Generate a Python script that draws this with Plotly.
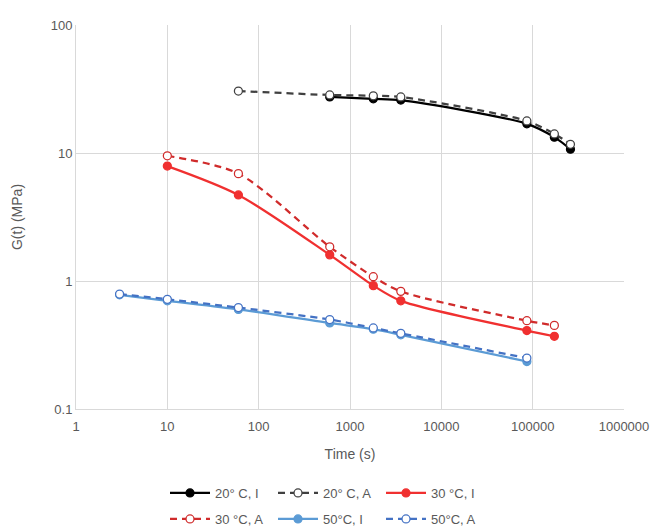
import plotly.graph_objects as go

# Data
t20_I = [600, 1800, 3600, 86400, 172800, 259200]
g20_I = [27.4, 26.5, 25.9, 16.9, 13.3, 10.7]
t20_A = [60, 600, 1800, 3600, 86400, 172800, 259200]
g20_A = [30.5, 28.4, 28.0, 27.4, 17.8, 14.1, 11.7]
t30_I = [10, 60, 600, 1800, 3600, 86400, 172800]
g30_I = [7.9, 4.7, 1.6, 0.92, 0.70, 0.41, 0.37]
t30_A = [10, 60, 600, 1800, 3600, 86400, 172800]
g30_A = [9.5, 6.9, 1.85, 1.08, 0.83, 0.49, 0.45]
t50_I = [3, 10, 60, 600, 1800, 3600, 86400]
g50_I = [0.78, 0.70, 0.60, 0.47, 0.42, 0.38, 0.235]
t50_A = [3, 10, 60, 600, 1800, 3600, 86400]
g50_A = [0.79, 0.72, 0.62, 0.50, 0.43, 0.39, 0.25]

x_ticks = [1, 10, 100, 1000, 10000, 100000, 1000000]
x_labels = ["1", "10", "100", "1000", "10000", "100000", "1000000"]
y_ticks = [0.1, 1, 10, 100]
y_labels = ["0.1", "1", "10", "100"]

series = [
    ("20° C, I", t20_I, g20_I, "#000000", "solid", False, "legend"),
    ("20° C, A", t20_A, g20_A, "#404040", "7px,5px", True, "legend"),
    ("30 °C, I", t30_I, g30_I, "#F03030", "solid", False, "legend"),
    ("30 °C, A", t30_A, g30_A, "#D02B2B", "7px,5px", True, "legend2"),
    ("50°C, I", t50_I, g50_I, "#5B9BD5", "solid", False, "legend2"),
    ("50°C, A", t50_A, g50_A, "#4472C4", "7px,5px", True, "legend2"),
]

fig = go.Figure()
for name, x, y, c, dash, hollow, lg in series:
    fig.add_trace(go.Scatter(
        x=x, y=y, name=name, mode="lines+markers", legend=lg,
        line=dict(color=c, width=2.25, dash=dash, shape="spline", smoothing=0.8),
        marker=dict(symbol="circle", size=8,
                    color="white" if hollow else c,
                    line=dict(color=c, width=1.25)),
    ))

font = "Liberation Sans, Arial, sans-serif"
leg_common = dict(orientation="h", x=0.5, xanchor="center", xref="container",
                  yanchor="middle", yref="container",
                  entrywidth=53, entrywidthmode="pixels", itemwidth=40,
                  font=dict(size=13, color="#595959"), bgcolor="rgba(0,0,0,0)")
fig.update_layout(
    width=654, height=528,
    margin=dict(l=76, r=30, t=25, b=119, autoexpand=False),
    paper_bgcolor="white", plot_bgcolor="white",
    font=dict(family=font, size=13, color="#595959"),
    showlegend=True,
    legend=dict(y=1 - 493 / 528, **leg_common),
    legend2=dict(y=1 - 519 / 528, **leg_common),
    xaxis=dict(type="log", range=[0, 6], tickvals=x_ticks, ticktext=x_labels,
               showgrid=True, gridcolor="#D9D9D9", gridwidth=1,
               zeroline=False, showline=True, linecolor="#D9D9D9",
               ticks="", ticklabelstandoff=5,
               title=dict(text="Time (s)", standoff=16,
                          font=dict(size=14, color="#595959"))),
    yaxis=dict(type="log", range=[-1, 2], tickvals=y_ticks, ticktext=y_labels,
               showgrid=True, gridcolor="#D9D9D9", gridwidth=1,
               zeroline=False, showline=True, linecolor="#D9D9D9",
               ticks="", title=dict(text="G(t) (MPa)", standoff=24,
                                    font=dict(size=14, color="#595959"))),
)

fig.write_html("out.html")
